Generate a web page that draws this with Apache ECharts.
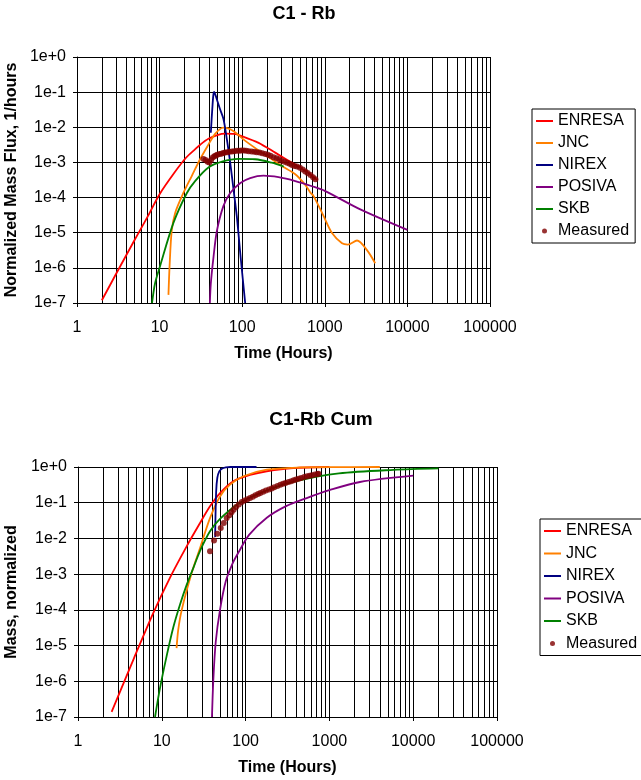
<!DOCTYPE html>
<html><head><meta charset="utf-8">
<script src="https://cdn.jsdelivr.net/npm/echarts@6/dist/echarts.min.js"></script>
<style>html,body{margin:0;padding:0;background:#fff}#c{width:641px;height:780px}</style>
</head><body><div id="c"></div>
<script>
// ---------- labels ----------
const seriesNames = ['ENRESA','JNC','NIREX','POSIVA','SKB','Measured'];
const seriesColors = ['#FF0000','#FF8000','#000080','#800080','#008000','#800000'];
const xTickLabels = ['1','10','100','1000','10000','100000'];
const yTickLabels = ['1e+0','1e-1','1e-2','1e-3','1e-4','1e-5','1e-6','1e-7'];
const minorGridValues = [2,3,4,5,6,7,8,9,20,30,40,50,60,70,80,90,200,300,400,500,600,700,800,900,
  2000,3000,4000,5000,6000,7000,8000,9000,20000,30000,40000,50000,60000,70000,80000,90000];
const title1 = 'C1 - Rb', title2 = 'C1-Rb Cum';
const xName = 'Time (Hours)';
const yName1 = 'Normalized Mass Flux, 1/hours', yName2 = 'Mass, normalized';

// ---------- chart 1 : flux ----------
const fluxENRESA = [[2,1.2e-7],[3,7e-7],[5,6.3e-6],[7,2.6e-5],[10,1.25e-4],[15,5e-4],[21,1.38e-3],[27,2.4e-3],[31,3.2e-3],[39,4.7e-3],[50,6.0e-3],[62,6.6e-3],[80,6.5e-3],[99,5.6e-3],[158,3.6e-3],[251,1.9e-3],[400,9.8e-4],[600,5.5e-4],[800,3.2e-4]];
const fluxJNC = [[12.8,1.7e-7],[13.2,1.1e-6],[14,1.1e-5],[15.4,3.6e-5],[19.4,1.35e-4],[24.5,4.1e-4],[31,1.25e-3],[38,2.9e-3],[47,6.5e-3],[59,9.8e-3],[70,9.0e-3],[82,7.2e-3],[109,4.1e-3],[173,1.9e-3],[303,7.9e-4],[439,4.6e-4],[580,2.3e-4],[667,1.4e-4],[732,1.1e-4],[968,2.95e-5],[1222,9.8e-6],[1616,5e-6],[1900,4.6e-6],[2455,6e-6],[3240,3.2e-6],[4076,1.35e-6]];
const fluxNIREX = [[41.7,7e-3],[43.5,3.5e-2],[44.8,8.5e-2],[45.8,1.02e-1],[47.3,8.5e-2],[49.3,6.3e-2],[54.1,3.2e-2],[59.4,1.7e-2],[65.2,4.6e-3],[71.6,9.8e-4],[78.5,1.7e-4],[86,2.95e-5],[96.4,1.7e-6],[108.7,1e-7]];
const fluxPOSIVA = [[40.6,1e-7],[41.7,3.6e-7],[45,2.1e-6],[49.3,1.1e-5],[59,5.6e-5],[71.6,1.35e-4],[95,2.6e-4],[125,3.6e-4],[181,4.2e-4],[275,3.8e-4],[439,2.95e-4],[700,2.1e-4],[1000,1.55e-4],[2690,4.6e-5],[10000,1.2e-5]];
const fluxSKB = [[8.1,1e-7],[8.8,3.6e-7],[10.1,1.1e-6],[14.7,1.9e-5],[21.4,1.35e-4],[26.9,2.95e-4],[39,7.2e-4],[57,1.05e-3],[90,1.26e-3],[144,1.23e-3],[228,9.8e-4],[318,7.6e-4]];
const fluxMeasuredT = [34,36,38,40,42,44,46,48,50,53,56,59,62,66,70,75,80,86,92,98,105,112,120,130,140,150,162,175,190,205,220,240,260,280,300,325,350,375,400,430,460,500,540,580,620,670,720,770];
const fluxMeasuredV = [1.26e-3,1.17e-3,1.05e-3,1.0e-3,1.17e-3,1.38e-3,1.51e-3,1.58e-3,1.66e-3,1.74e-3,1.78e-3,1.86e-3,1.91e-3,1.95e-3,2.0e-3,2.04e-3,2.09e-3,2.14e-3,2.14e-3,2.19e-3,2.19e-3,2.14e-3,2.09e-3,2.04e-3,2.0e-3,1.95e-3,1.91e-3,1.82e-3,1.74e-3,1.66e-3,1.55e-3,1.41e-3,1.32e-3,1.23e-3,1.12e-3,1.05e-3,9.8e-4,9.1e-4,8.5e-4,7.9e-4,7.6e-4,7.1e-4,6.3e-4,5.5e-4,5.0e-4,4.4e-4,3.8e-4,3.3e-4];

// ---------- chart 2 : cumulative ----------
const cumENRESA = [[2.52,1.4e-7],[4.57,4e-6],[7.9,8.1e-5],[12.5,7.9e-4],[19.8,6e-3],[28.6,2.7e-2],[37.6,7.9e-2],[49.5,0.186],[71.3,0.40],[113,0.60],[179,0.76],[371,0.93],[1000,1.0]];
const cumJNC = [[15,8.5e-6],[15.7,2.75e-5],[17.3,1e-4],[22.7,1.07e-3],[28.6,5.4e-3],[37.6,3.7e-2],[49.5,0.15],[65.2,0.32],[94,0.55],[179,0.84],[450,0.97],[1000,0.99],[4000,1.0]];
const cumNIREX = [[43.3,1.1e-2],[44.5,0.2],[46,0.5],[48.5,0.75],[52,0.9],[58,0.98],[66,1.0],[135,1.0]];
const cumPOSIVA = [[39.7,1e-7],[41.2,1.1e-6],[44,1.26e-5],[49.5,1e-4],[58,6.3e-4],[70,2e-3],[82,4e-3],[110,1.26e-2],[179,3.8e-2],[300,7.9e-2],[536,0.135],[1000,0.224],[2317,0.38],[10000,0.57]];
const cumSKB = [[8.3,1e-7],[9.5,6.3e-7],[11.4,5e-6],[13.7,3.2e-5],[16.5,1.41e-4],[19.8,5e-4],[24,1.58e-3],[28.6,4.5e-3],[37.6,1.58e-2],[49.5,3.55e-2],[85.7,0.1],[179,0.22],[400,0.4],[1300,0.66],[5800,0.83],[20000,0.91]];
const cumMeasuredT = [37.6,42,46,50.5,55,59.5,64,68,72,77,83,90,97,105,113,122,131,141,150,162,175,190,205,220,240,260,280,300,325,350,375,400,430,460,500,540,580,620,670,720,740];
const cumMeasuredV = [4.37e-3,8.7e-3,1.35e-2,1.95e-2,2.69e-2,3.72e-2,4.47e-2,5.37e-2,6.31e-2,7.59e-2,8.91e-2,0.105,0.115,0.126,0.135,0.148,0.162,0.174,0.186,0.204,0.219,0.234,0.251,0.269,0.295,0.316,0.339,0.355,0.380,0.398,0.427,0.447,0.468,0.490,0.525,0.550,0.569,0.589,0.617,0.638,0.646];

// ---------- build ----------
const FONT = "'Liberation Sans', Arial, sans-serif";
const chart = echarts.init(document.getElementById('c'), null, {renderer:'canvas'});

function xAxisCfg(gi){
  return {
    type:'log', logBase:10, min:1, max:100000, gridIndex:gi,
    name:xName, nameLocation:'middle', nameGap:43, nameMoveOverlap:false,
    nameTextStyle:{fontWeight:'bold', fontSize:16, color:'#000', fontFamily:FONT},
    axisLine:{show:true, lineStyle:{color:'#000', width:1}},
    axisTick:{show:true, length:4, lineStyle:{color:'#000'}},
    axisLabel:{fontSize:16, color:'#000', margin:17, fontFamily:FONT,
      formatter:v=>xTickLabels[Math.round(Math.log10(v))]},
    splitLine:{show:true, lineStyle:{color:'#000', width:1}}
  };
}
function yAxisCfg(gi, name, gap){
  return {
    type:'log', logBase:10, min:1e-7, max:1, splitNumber:7, gridIndex:gi,
    name:name, nameLocation:'middle', nameGap:gap, nameMoveOverlap:false,
    nameTextStyle:{fontWeight:'bold', fontSize:16, color:'#000', fontFamily:FONT},
    axisLine:{show:true, lineStyle:{color:'#000', width:1}},
    axisTick:{show:true, length:4, lineStyle:{color:'#000'}},
    axisLabel:{fontSize:16, color:'#000', margin:11, fontFamily:FONT,
      formatter:v=>yTickLabels[-Math.round(Math.log10(v))]},
    splitLine:{show:true, lineStyle:{color:'#000', width:1}}
  };
}
function gridLines(){
  return {silent:true, symbol:['none','none'], label:{show:false}, z:1, animation:false,
    lineStyle:{color:'#000', width:1, type:'solid'}, emphasis:{disabled:true},
    data:minorGridValues.map(v=>({xAxis:v}))};
}
function lineSeries(name, color, data, gi, withGrid){
  const s = {name, type:'line', data, xAxisIndex:gi, yAxisIndex:gi, symbol:'none', showSymbol:false,
    smooth:0.3, lineStyle:{color, width:1.8}, itemStyle:{color}, z:3, animation:false};
  if (withGrid) s.markLine = gridLines();
  return s;
}
function scatterSeries(ts, vs, gi){
  return {name:'Measured', type:'scatter', xAxisIndex:gi, yAxisIndex:gi, symbol:'circle', symbolSize:6,
    data: ts.map((t,i)=>[t, vs[i]]), itemStyle:{color:seriesColors[5]}, z:4, animation:false};
}
const LINE_ICON = 'path://M0,0L17,0L17,2L0,2Z';
function legendCfg(left, top, gap){
  return {orient:'vertical', left, top, selectedMode:false, padding:[4,6,4,4],
    borderColor:'#000', borderWidth:1, itemWidth:17, itemHeight:5, itemGap:gap,
    textStyle:{fontSize:16, color:'#000', fontFamily:FONT, lineHeight:16},
    data: seriesNames.map(n => n === 'Measured' ? {name:n, icon:'circle'} : {name:n, icon:LINE_ICON})};
}

const flux = [fluxENRESA, fluxJNC, fluxNIREX, fluxPOSIVA, fluxSKB];
const cum = [cumENRESA, cumJNC, cumNIREX, cumPOSIVA, cumSKB];
const series = [];
flux.forEach((d,i)=>series.push(lineSeries(seriesNames[i], seriesColors[i], d, 0, i===0)));
series.push(scatterSeries(fluxMeasuredT, fluxMeasuredV, 0));
cum.forEach((d,i)=>series.push(lineSeries(seriesNames[i], seriesColors[i], d, 1, i===0)));
series.push(scatterSeries(cumMeasuredT, cumMeasuredV, 1));

chart.setOption({
  animation:false,
  backgroundColor:'#fff',
  textStyle:{fontFamily:FONT},
  title:[
    {text:title1, left:304, top:5, textAlign:'center', padding:0,
     textStyle:{fontSize:18, fontWeight:'bold', color:'#000', fontFamily:FONT}},
    {text:title2, left:321, top:410, textAlign:'center', padding:0,
     textStyle:{fontSize:19, fontWeight:'bold', color:'#000', fontFamily:FONT}}
  ],
  legend:[legendCfg(532,109,6), legendCfg(540,519,6.5)],
  grid:[
    {left:77, top:57, width:413, height:246, containLabel:false, outerBoundsMode:'none'},
    {left:78, top:467, width:419, height:250, containLabel:false, outerBoundsMode:'none'}
  ],
  xAxis:[xAxisCfg(0), xAxisCfg(1)],
  yAxis:[yAxisCfg(0, yName1, 57), yAxisCfg(1, yName2, 58)],
  series
});
</script></body></html>
